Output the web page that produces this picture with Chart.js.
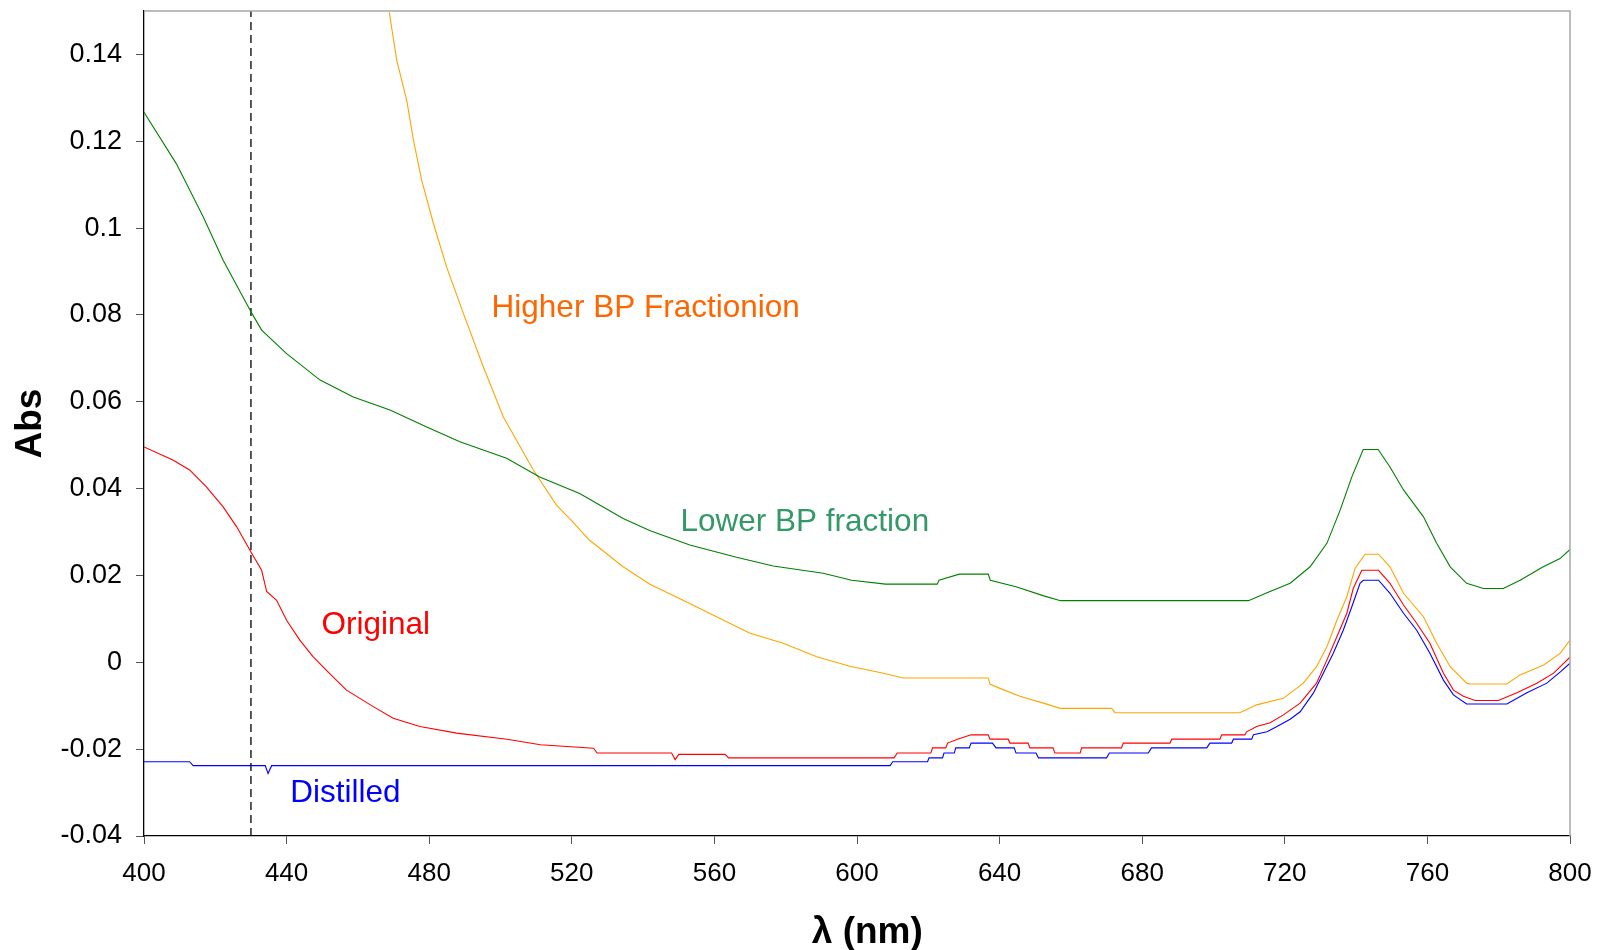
<!DOCTYPE html>
<html>
<head>
<meta charset="utf-8">
<script src="https://cdn.jsdelivr.net/npm/chart.js@4/dist/chart.umd.min.js"></script>
<style>
  html, body { margin: 0; padding: 0; background: #ffffff; }
  #wrap { width: 1599px; height: 950px; position: relative; }
</style>
</head>
<body>
<div id="wrap"><canvas id="c"></canvas></div>
<script>
// ---- Data (wavelength in nm, absorbance) ----
const lowerWl  = [400,409.1,416.6,422.2,430.3,433,440,449.4,458.7,469,479.3,488.6,501.7,511,522.2,534.4,542,553.1,566.2,576.5,590.5,598.5,608,622.5,623,628.7,636.8,637.4,644.6,652.4,657.1,709.8,715,721.5,727.1,731.8,735.5,738.8,742,746.2,749.5,753.3,758.9,762.6,766.4,771,775.7,781.3,786,792.5,797.2,800];
const lowerAbs = [0.1267,0.1148,0.1026,0.0926,0.0803,0.0765,0.0711,0.0650,0.0611,0.0581,0.0542,0.0508,0.0470,0.0427,0.0389,0.0331,0.0303,0.0270,0.0242,0.0222,0.0205,0.0189,0.0180,0.0180,0.0189,0.0203,0.0203,0.0189,0.0174,0.0153,0.0142,0.0142,0.0160,0.0182,0.0220,0.0274,0.0350,0.0427,0.0490,0.0490,0.0450,0.0397,0.0335,0.0274,0.0220,0.0182,0.0170,0.0170,0.0189,0.0220,0.0239,0.0260];

const higherWl  = [468.8,470.9,473.7,475.6,477.9,481.2,484.9,489.6,495.2,500.8,509.2,515.7,519.4,525,534.4,541.9,551.2,560.6,570,579.3,588.7,598,607.4,613,636.8,637.3,640.1,645.7,652.3,657,671.4,672.4,707.4,712.1,719.6,725.2,728.9,731.8,734.6,737.4,739.7,742.5,746.3,749.5,753.3,758.9,762.6,766.4,771,772,782.3,786,792.6,797.3,800];
const higherAbs = [0.1497,0.1386,0.1294,0.1202,0.1110,0.1010,0.0910,0.0803,0.0680,0.0565,0.0443,0.0362,0.0331,0.0281,0.0220,0.0180,0.0143,0.0105,0.0067,0.0044,0.0013,-0.0009,-0.0025,-0.0036,-0.0036,-0.0050,-0.0060,-0.0078,-0.0094,-0.0106,-0.0106,-0.0116,-0.0116,-0.0098,-0.0083,-0.0048,-0.0010,0.0036,0.0097,0.0151,0.0216,0.0249,0.0249,0.0220,0.0159,0.0105,0.0044,-0.0010,-0.0048,-0.0050,-0.0050,-0.0029,-0.0006,0.0021,0.0051];

const origWl  = [400,408.1,412.8,417.5,422.2,426,430.2,433,434.4,437.2,440,443.7,447.4,452.1,456.8,464.3,469.9,477.4,487.7,501.8,511.2,526.1,527.1,548,549,550,563,564,610.4,611.3,620.7,621.2,624.9,625.4,628.2,632,636.8,637.3,642.4,642.9,648,648.5,655,655.5,662.6,663,674.2,674.7,687.8,688.3,701.8,702.3,708.8,709.3,712.1,715.9,719.6,724.3,728.9,731.8,734.6,737.4,739.2,741.6,746.3,749.5,753.3,757,760.7,764.5,767.3,770.1,773.4,779.9,785.1,790.7,795.4,800];
const origAbs = [0.0496,0.0466,0.0443,0.0404,0.0358,0.0312,0.0251,0.0212,0.0163,0.0143,0.0097,0.0051,0.0013,-0.0026,-0.0064,-0.0102,-0.0129,-0.0148,-0.0163,-0.0177,-0.0190,-0.0198,-0.0209,-0.0209,-0.0224,-0.0212,-0.0212,-0.0220,-0.0220,-0.0209,-0.0209,-0.0197,-0.0197,-0.0186,-0.0177,-0.0167,-0.0167,-0.0177,-0.0177,-0.0186,-0.0186,-0.0197,-0.0197,-0.0209,-0.0209,-0.0197,-0.0197,-0.0186,-0.0186,-0.0177,-0.0177,-0.0167,-0.0167,-0.0160,-0.0148,-0.0139,-0.0121,-0.0094,-0.0048,0.0005,0.0059,0.0113,0.0170,0.0212,0.0212,0.0182,0.0132,0.0090,0.0044,-0.0025,-0.0064,-0.0078,-0.0088,-0.0088,-0.0070,-0.0048,-0.0025,0.0012];

const distWl  = [400,412.8,413.8,434,434.8,435.8,609.3,610,619.8,620.2,624,624.4,627.3,627.7,631.5,632,638,639,644.1,644.6,650.2,650.9,670,670.8,681.7,682.6,698.1,699,705.1,705.6,710.7,711.2,715,717.8,721.5,724.3,728,730.8,733.6,736.4,738.8,741.1,742,746.3,749.5,753.3,757,760.7,764.5,767.3,771,782.3,787.9,793.5,797.3,800];
const distAbs = [-0.0229,-0.0229,-0.0238,-0.0238,-0.0256,-0.0238,-0.0238,-0.0229,-0.0229,-0.0220,-0.0220,-0.0209,-0.0209,-0.0197,-0.0197,-0.0186,-0.0186,-0.0197,-0.0197,-0.0209,-0.0209,-0.0220,-0.0220,-0.0209,-0.0209,-0.0197,-0.0197,-0.0186,-0.0186,-0.0177,-0.0177,-0.0167,-0.0160,-0.0148,-0.0131,-0.0114,-0.0071,-0.0025,0.0021,0.0074,0.0128,0.0182,0.0189,0.0189,0.0159,0.0113,0.0074,0.0021,-0.0041,-0.0075,-0.0096,-0.0096,-0.0070,-0.0048,-0.0022,-0.0002];

const markerWl  = [430, 430];
const markerAbs = [-0.04, 0.15];

// Curve labels (text, anchor in data coordinates)
const labelText  = ["Higher BP Fractionion", "Lower BP fraction", "Original", "Distilled"];
const labelWl    = [497.5, 550.5, 449.8, 441.0];
const labelAbs   = [0.0815, 0.0323, 0.0085, -0.0302];
const labelColor = ["#FF6600", "#339966", "#FF0000", "#0000FF"];

const xTicksMin = 400, xTicksMax = 800, xStep = 40;
const yMin = -0.04, yMax = 0.15, yStep = 0.02;

// ---- Chart ----
const FONT = "'Liberation Sans', Arial, Helvetica, sans-serif";
const pts = (xs, ys) => xs.map((x, i) => ({ x: x, y: ys[i] }));

const lineDs = (label, xs, ys, color) => ({
  label, data: pts(xs, ys), borderColor: color, backgroundColor: color,
  borderWidth: 1.1, pointRadius: 0, tension: 0, fill: false
});

const framePlugin = {
  id: 'frame',
  afterDatasetsDraw(chart) {
    const { ctx, chartArea: a } = chart;
    ctx.save();
    ctx.strokeStyle = '#a8a8a8';
    ctx.lineWidth = 1.5;
    ctx.beginPath();
    ctx.moveTo(a.left, a.top);
    ctx.lineTo(a.right, a.top);
    ctx.lineTo(a.right, a.bottom);
    ctx.stroke();
    ctx.restore();
  }
};

const labelPlugin = {
  id: 'curveLabels',
  afterDatasetsDraw(chart) {
    const { ctx, scales } = chart;
    ctx.save();
    ctx.font = "31.5px " + FONT;
    ctx.textAlign = 'left';
    ctx.textBaseline = 'middle';
    labelText.forEach((t, i) => {
      ctx.fillStyle = labelColor[i];
      ctx.fillText(t, scales.x.getPixelForValue(labelWl[i]), scales.y.getPixelForValue(labelAbs[i]));
    });
    ctx.restore();
  }
};

new Chart(document.getElementById('c'), {
  type: 'line',
  data: {
    datasets: [
      lineDs('Lower BP fraction', lowerWl, lowerAbs, '#008000'),
      lineDs('Higher BP Fractionion', higherWl, higherAbs, '#FFA500'),
      lineDs('Original', origWl, origAbs, '#FF0000'),
      lineDs('Distilled', distWl, distAbs, '#0000FF'),
      {
        label: 'marker', data: pts(markerWl, markerAbs), borderColor: '#000000',
        borderWidth: 1.3, borderDash: [8, 5], pointRadius: 0, tension: 0, fill: false
      }
    ]
  },
  options: {
    responsive: true,
    maintainAspectRatio: false,
    animation: false,
    devicePixelRatio: 1,
    layout: { padding: { top: 11, right: 29, left: 0, bottom: 0 } },
    plugins: { legend: { display: false }, tooltip: { enabled: false } },
    scales: {
      x: {
        type: 'linear', min: xTicksMin, max: xTicksMax,
        afterFit(s) { s.height = 114; s.paddingLeft = 0; s.paddingRight = 0; },
        ticks: { stepSize: xStep, color: '#000', padding: 14, font: { family: FONT, size: 26 } },
        grid: { drawOnChartArea: false, tickLength: 8, color: '#555' },
        border: { color: '#000', width: 1.3 },
        title: { display: true, text: '\u00a0\u00a0λ (nm)', color: '#000', padding: { top: 0, bottom: 0 },
                 font: { family: FONT, size: 37, weight: 'bold', lineHeight: 0.95 } }
      },
      y: {
        type: 'linear', min: yMin, max: yMax,
        afterFit(s) { s.width = 144; s.paddingTop = 0; s.paddingBottom = 0; },
        afterBuildTicks(s) { s.ticks = s.ticks.filter(t => Math.abs(t.value - yMax) > 1e-9); },
        ticks: {
          stepSize: yStep, color: '#000', padding: 14, font: { family: FONT, size: 27 },
          callback: v => String(Number(v.toFixed(2)))
        },
        grid: { drawOnChartArea: false, tickLength: 8, color: '#555' },
        border: { color: '#000', width: 1.3 },
        title: { display: true, text: 'Abs', color: '#000', padding: { top: 9, bottom: 0 },
                 font: { family: FONT, size: 37, weight: 'bold' } }
      }
    }
  },
  plugins: [framePlugin, labelPlugin]
});
</script>
</body>
</html>
